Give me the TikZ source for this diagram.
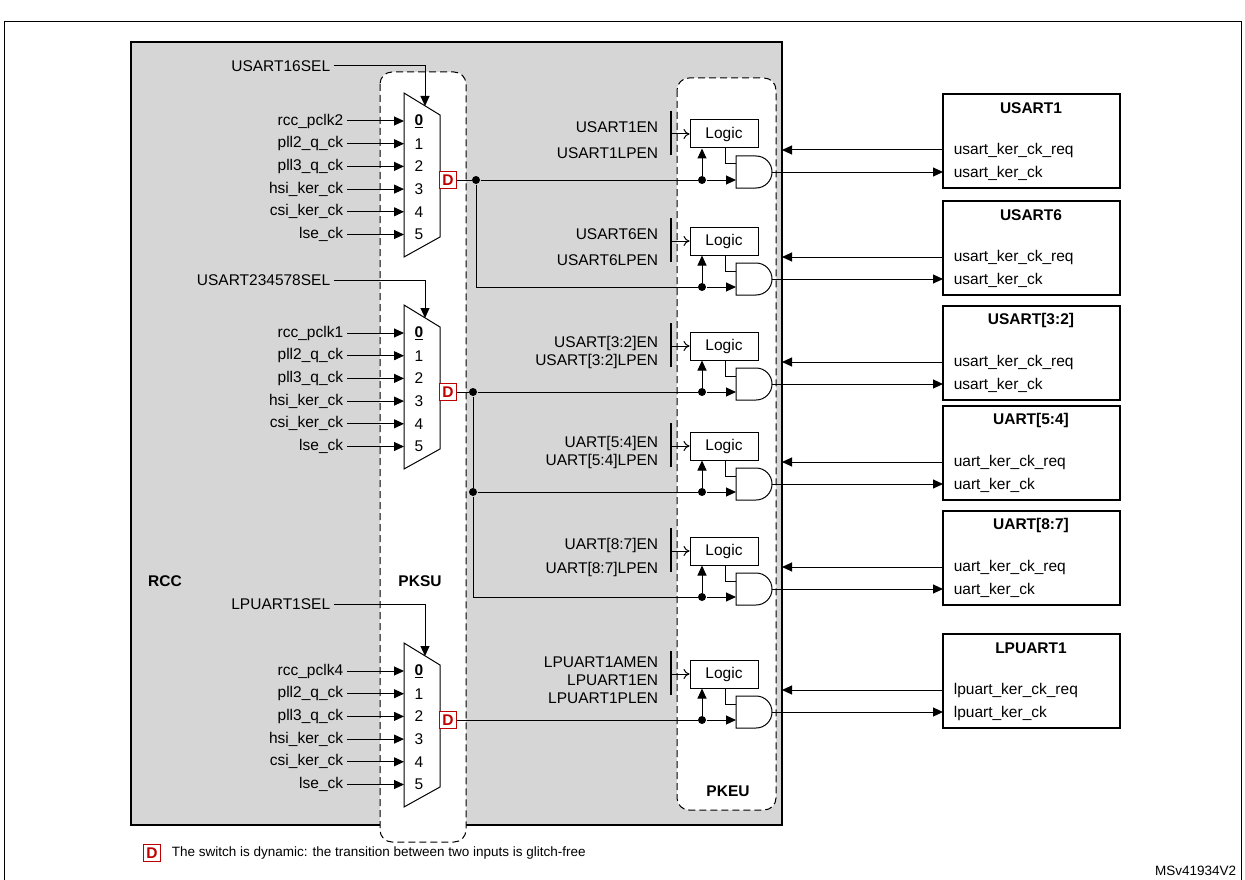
\documentclass[tikz,border=0pt]{standalone}
\usepackage{fontspec}
\setmainfont{Liberation Sans}
\usetikzlibrary{arrows.meta,calc}

\tikzset{
  tip/.style={-{Triangle[length=10pt,width=9pt]}},
  dyn/.style={draw=red!75!black,text=red!75!black,font=\fontsize{15.5}{18}\selectfont\bfseries,fill=white,inner sep=1pt,minimum size=17pt,line width=1.1pt},
  logic/.style={draw,fill=white,minimum width=68pt,minimum height=28pt},
  dot/.style={circle,fill,inner sep=0pt,minimum size=8pt},
  periph/.style={draw,line width=2pt},
  unit/.style={dash pattern=on 7pt off 4pt,fill=white,rounded corners=12pt,line width=1pt}
}

% mux: name, y of input 0, y of D output, first input label
\newcommand{\ksmux}[4]{%
  \draw[fill=white] (404,#2-28) -- (440,#2-6) -- (440,#2+116) -- (404,#2+136) -- cycle;
  \foreach \lab [count=\i from 0] in {#4,pll2\_q\_ck,pll3\_q\_ck,hsi\_ker\_ck,csi\_ker\_ck,lse\_ck}{
    \node[anchor=east] (#1in\i) at (347,{#2+\i*22.7}) {\lab};
    \coordinate (#1pin\i) at (404,{#2+\i*22.7});
    \draw[tip] (#1in\i.east) -- (#1pin\i);
    \ifnum\i=0
      \node (#1num\i) at (419,{#2+\i*22.7}) {\bfseries\underline{0}};
    \else
      \node (#1num\i) at (419,{#2+\i*22.7}) {\i};
    \fi
  }
  \coordinate (#1sel) at (425,#2-15);
  \node[dyn] (#1D) at (448,#3) {D};
}

% kernel gate + peripheral: name, line y, enable labels, title, req, ck
\newcommand{\kegroup}[6]{%
  \node[logic] (#1logic) at (724,#2-46) {Logic};
  \draw[fill=white] (736,#2-24) -- (756,#2-24) arc[start angle=90,end angle=-90,radius=16pt] -- (736,#2+8) -- cycle;
  \coordinate (#1andin) at (736,#2);
  \coordinate (#1andout) at (772,#2-8);
  \node[dot] (#1dot) at (702,#2) {};
  \draw[tip] (#1dot) -- (#1andin);
  \draw[tip] (#1dot) -- (#1dot |- #1logic.south);
  \draw ($(#1logic.south)+(1,0)$) |- (736,#2-16);
  \draw[line width=1.2pt] (671,#2-69) -- (671,#2-25);
  \draw[-{To[length=6pt,width=10pt]}] (671,#2-46) -- (#1logic.west);
  \node[anchor=east,align=right] (#1en) at (662,#2-40) {#3};
  \draw[periph] (943,#2+8) rectangle (1120,#2-86);
  \node[font=\fontsize{15.5}{18}\selectfont\bfseries] (#1title) at (1031,#2-72) {#4};
  \node[anchor=west] (#1req) at (950,#2-30) {#5};
  \node[anchor=west] (#1ck) at (950,#2-7) {#6};
  \coordinate (#1reqin) at (943,#2-30);
  \coordinate (#1ckin) at (943,#2-8);
  \coordinate (#1rcc) at (782,#2-30);
  \draw[tip] (#1reqin) -- (#1rcc);
  \draw[tip] (#1andout) -- (#1ckin);
}

\begin{document}
\begin{tikzpicture}[x=1pt,y=-1pt,line width=1pt,font=\fontsize{15.5}{18}\selectfont]
\useasboundingbox (0,0) rectangle (1245,880);

% frames
\draw (4,895) -- (4,22) -- (1241,22) -- (1241,895);
\draw[fill=black!16,line width=2.2pt] (131,42) rectangle (782,825);
\draw[unit] (380,72) rectangle (466,842);
\draw[unit] (677,78) rectangle (776,810);
\node[font=\fontsize{15.5}{18}\selectfont\bfseries] (rcc) at (165,581) {RCC};
\node[font=\fontsize{15.5}{18}\selectfont\bfseries] (pksu) at (420,581) {PKSU};
\node[font=\fontsize{15.5}{18}\selectfont\bfseries] (pkeu) at (728,791) {PKEU};

% kernel clock muxes
\ksmux{ma}{121}{180}{rcc\_pclk2}
\ksmux{mb}{333}{392}{rcc\_pclk1}
\ksmux{mc}{671}{720}{rcc\_pclk4}

\node[anchor=east] (sela) at (334,66) {USART16SEL};
\node[anchor=east] (selb) at (334,280) {USART234578SEL};
\node[anchor=east] (selc) at (334,604) {LPUART1SEL};
\draw[tip] (sela.east) -| (masel);
\draw[tip] (selb.east) -| (mbsel);
\draw[tip] (selc.east) -| (mcsel);

% enable gates and peripherals
\kegroup{ga}{180}{USART1EN\\[8pt]USART1LPEN}{USART1}{usart\_ker\_ck\_req}{usart\_ker\_ck}
\kegroup{gb}{287}{USART6EN\\[8pt]USART6LPEN}{USART6}{usart\_ker\_ck\_req}{usart\_ker\_ck}
\kegroup{gc}{392}{USART[3:2]EN\\USART[3:2]LPEN}{USART[3:2]}{usart\_ker\_ck\_req}{usart\_ker\_ck}
\kegroup{gd}{492}{UART[5:4]EN\\UART[5:4]LPEN}{UART[5:4]}{uart\_ker\_ck\_req}{uart\_ker\_ck}
\kegroup{ge}{597}{UART[8:7]EN\\[6pt]UART[8:7]LPEN}{UART[8:7]}{uart\_ker\_ck\_req}{uart\_ker\_ck}
\kegroup{gf}{720}{LPUART1AMEN\\LPUART1EN\\LPUART1PLEN}{LPUART1}{lpuart\_ker\_ck\_req}{lpuart\_ker\_ck}

% mux outputs
\node[dot] (spa) at (476,180) {};
\node[dot] (spb) at (473,392) {};
\node[dot] (spc) at (473,492) {};
\draw (maD) -- (spa) -- (gadot);
\draw (spa) |- (gbdot);
\draw (mbD) -- (spb) -- (gcdot);
\draw (spb) -- (spc) -- (gddot);
\draw (spc) |- (gedot);
\draw (mcD) -- (gfdot);

% legend
\node[dyn] (legd) at (152,853) {D};
\node[anchor=west,font=\fontsize{13.5}{16}\selectfont] (legtxt) at (168,853) {The switch is dynamic: the transition between two inputs is glitch-free};
\node[anchor=east,font=\fontsize{13.5}{16}\selectfont] (ref) at (1240,871) {MSv41934V2};
\end{tikzpicture}
\end{document}
